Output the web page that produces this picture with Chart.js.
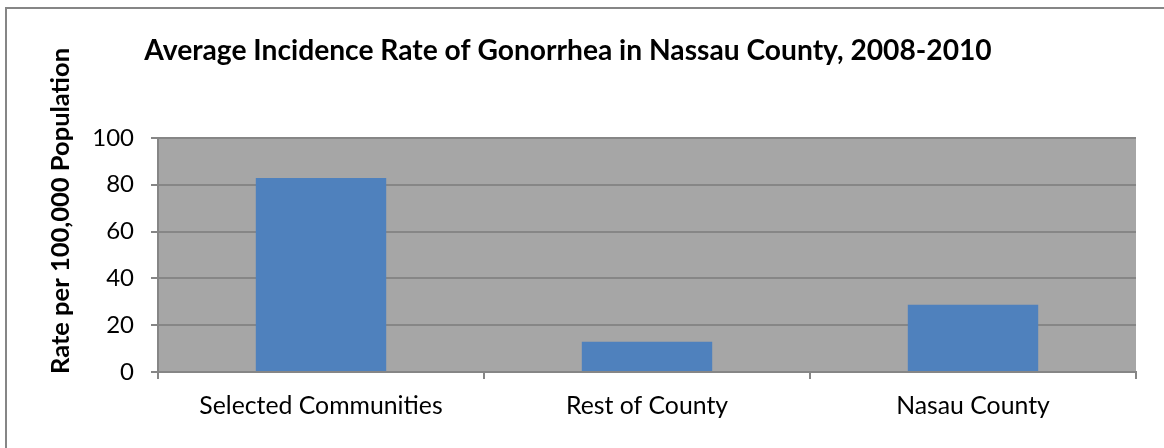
<!DOCTYPE html>
<html>
<head>
<meta charset="utf-8">
<script src="https://cdn.jsdelivr.net/npm/chart.js@4.4.1/dist/chart.umd.min.js"></script>
<style>
    html, body { margin: 0; padding: 0; background: #fff; }
    #wrap { width: 1164px; height: 448px; position: relative; }
</style>
</head>
<body>
<div id="wrap"><canvas id="gonorrheaChart"></canvas></div>
<script>
// Average incidence rate of gonorrhea, Nassau County 2008-2010

const categories = ['Selected Communities', 'Rest of County', 'Nasau County'];
const rates = [82.8, 12.9, 28.7];
const yMin = 0;
const yMax = 100;
const yStep = 20;

const chartTitle = 'Average Incidence Rate of Gonorrhea in Nassau County, 2008-2010';
const yAxisTitle = 'Rate per 100,000 Population';

const FONT = 'Lato, "Open Sans", sans-serif';
const GRID_GRAY = '#868686';

// Outer frame, gray plot background and the rotated y title
const frameAndBackground = {
    id: 'frameAndBackground',
    beforeDraw(chart) {
        const ctx = chart.ctx;
        const area = chart.chartArea;
        ctx.save();
        ctx.fillStyle = '#fff';
        ctx.fillRect(0, 0, chart.width, chart.height);
        ctx.strokeStyle = GRID_GRAY;
        ctx.lineWidth = 2;
        ctx.strokeRect(6, 8, chart.width + 10, chart.height + 10);
        ctx.fillStyle = '#A6A6A6';
        ctx.fillRect(area.left, area.top, area.right - area.left, area.bottom - area.top);
        ctx.restore();
    },
    afterDraw(chart) {
        const ctx = chart.ctx;
        ctx.save();
        ctx.translate(61, 211);
        ctx.rotate(-Math.PI / 2);
        ctx.font = 'bold 25.5px ' + FONT;
        ctx.fillStyle = '#000';
        ctx.textAlign = 'center';
        ctx.textBaseline = 'middle';
        ctx.fillText(yAxisTitle, 0, 0);
        ctx.restore();
    }
};

const ctx = document.getElementById('gonorrheaChart').getContext('2d');

new Chart(ctx, {
    type: 'bar',
    data: {
        labels: categories,
        datasets: [{
            label: 'Rate',
            data: rates,
            backgroundColor: '#4F81BD',
            borderWidth: 0,
            categoryPercentage: 1.0,
            barPercentage: 0.4
        }]
    },
    options: {
        responsive: true,
        maintainAspectRatio: false,
        animation: false,
        layout: {
            padding: { left: 0, right: 28, top: 0, bottom: 0 }
        },
        plugins: {
            legend: { display: false },
            tooltip: { enabled: false },
            title: {
                display: true,
                text: chartTitle,
                color: '#000',
                font: { family: FONT, size: 28.2, weight: 'bold' },
                padding: { top: 34, bottom: 70 }
            }
        },
        scales: {
            x: {
                afterFit(scale) { scale.height = 76; },
                grid: {
                    offset: true,
                    drawOnChartArea: false,
                    drawTicks: true,
                    tickLength: 7,
                    color: GRID_GRAY,
                    lineWidth: 2
                },
                border: { display: true, color: GRID_GRAY, width: 2 },
                ticks: {
                    color: '#000',
                    font: { family: FONT, size: 24.8 },
                    padding: 12,
                    maxRotation: 0
                }
            },
            y: {
                min: yMin,
                max: yMax,
                afterFit(scale) { scale.width = 158; },
                grid: {
                    color: GRID_GRAY,
                    lineWidth: 2,
                    drawTicks: true,
                    tickLength: 7
                },
                border: { display: true, color: GRID_GRAY, width: 2 },
                ticks: {
                    stepSize: yStep,
                    color: '#000',
                    font: { family: FONT, size: 24 },
                    padding: 17
                }
            }
        }
    },
    plugins: [frameAndBackground]
});
</script>
</body>
</html>
